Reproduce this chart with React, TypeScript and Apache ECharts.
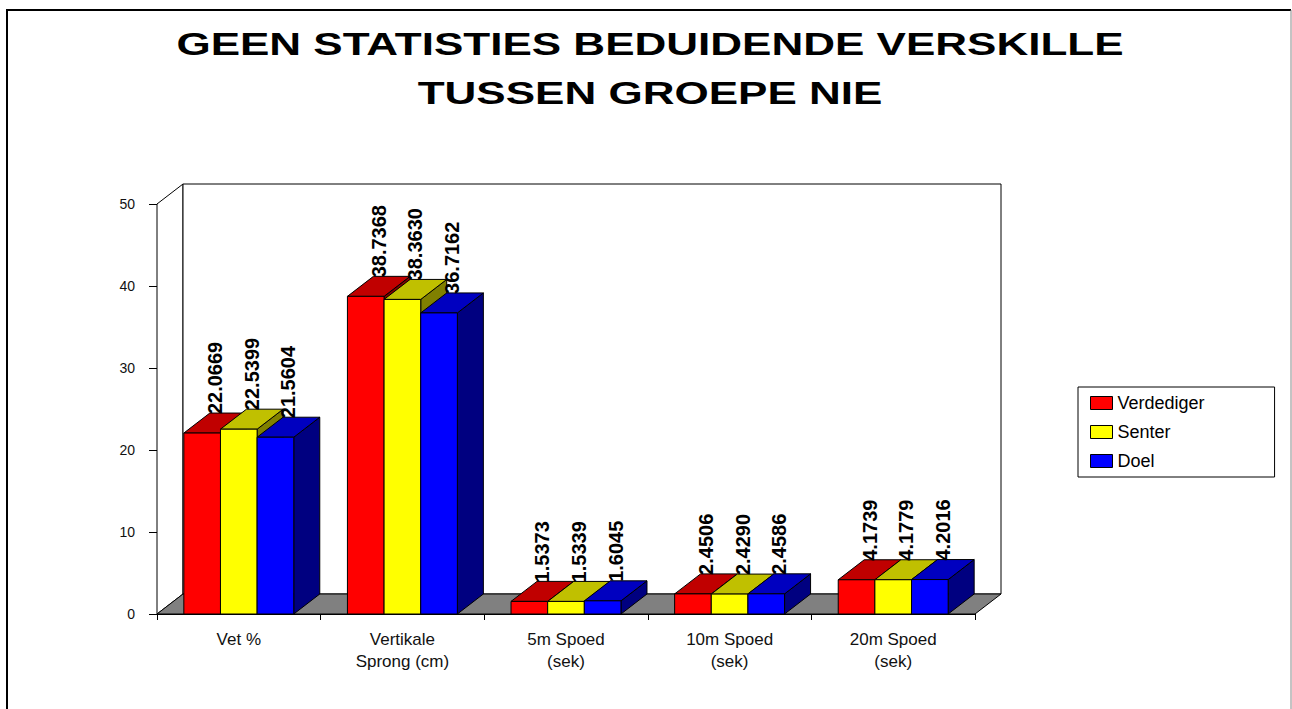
import React, { useEffect, useRef } from "react";
import * as echarts from "echarts";

// ---- data ----
const categories = [
  "Vet %",
  "Vertikale\nSprong (cm)",
  "5m Spoed\n(sek)",
  "10m Spoed\n(sek)",
  "20m Spoed\n(sek)",
];
const seriesNames = ["Verdediger", "Senter", "Doel"];
const verdediger = [22.0669, 38.7368, 1.5373, 2.4506, 4.1739];
const senter = [22.5399, 38.363, 1.5339, 2.429, 4.1779];
const doel = [21.5604, 36.7162, 1.6045, 2.4586, 4.2016];
const titleLines = ["GEEN STATISTIES BEDUIDENDE VERSKILLE", "TUSSEN GROEPE NIE"];
const yMin = 0;
const yMax = 50;
const yInterval = 10;

// ---- styles ----
const FONT = '"Liberation Sans", Arial, sans-serif';
const frontColors = ["#FF0000", "#FFFF00", "#0000FF"];
const topColors = ["#C00000", "#C0C000", "#0000C0"];
const sideColors = ["#800000", "#808000", "#000080"];
const DX = 26;
const DY = 20;
const GROUP_FRAC = 0.672;

const seriesValues = [verdediger, senter, doel];

function makeBarRenderer(k: number) {
  return (params: any, api: any) => {
    const ci = api.value(0);
    const v = api.value(1);
    const [cx, yTop] = api.coord([ci, v]);
    const [, y0] = api.coord([ci, 0]);
    const catW = api.size([1, 0])[0];
    const bw = (catW * GROUP_FRAC) / 3;
    const x0 = cx - 1.5 * bw + k * bw;
    const x1 = x0 + bw;
    const stroke = { stroke: "#000", lineWidth: 1 };
    return {
      type: "group",
      children: [
        {
          type: "polygon",
          z2: 1,
          shape: {
            points: [
              [x1, yTop],
              [x1 + DX, yTop - DY],
              [x1 + DX, y0 - DY],
              [x1, y0],
            ],
          },
          style: { fill: sideColors[k], ...stroke },
        },
        {
          type: "polygon",
          z2: 1,
          shape: {
            points: [
              [x0, yTop],
              [x1, yTop],
              [x1 + DX, yTop - DY],
              [x0 + DX, yTop - DY],
            ],
          },
          style: { fill: topColors[k], ...stroke },
        },
        {
          type: "rect",
          z2: 1,
          shape: { x: x0, y: yTop, width: bw, height: y0 - yTop },
          style: { fill: frontColors[k], ...stroke },
        },
        {
          type: "text",
          z2: 50,
          x: (x0 + x1) / 2 + DX / 2,
          y: yTop - DY + 1,
          rotation: Math.PI / 2,
          style: {
            text: v.toFixed(4),
            font: `bold 20px ${FONT}`,
            fill: "#000",
            align: "left",
            verticalAlign: "middle",
          },
        },
      ],
    };
  };
}

function renderFrame(params: any) {
  const cs = params.coordSys;
  const gx = cs.x;
  const gy = cs.y;
  const gw = cs.width;
  const gh = cs.height;
  const stroke = { stroke: "#000", lineWidth: 1 };
  return {
    type: "group",
    children: [
      {
        type: "polygon",
        shape: {
          points: [
            [gx, gy + gh],
            [gx, gy],
            [gx + DX, gy - DY],
            [gx + DX, gy + gh - DY],
          ],
        },
        style: { fill: "#fff", ...stroke },
      },
      {
        type: "rect",
        shape: { x: gx + DX, y: gy - DY, width: gw, height: gh },
        style: { fill: "#fff", ...stroke },
      },
      {
        type: "polygon",
        shape: {
          points: [
            [gx, gy + gh],
            [gx + gw, gy + gh],
            [gx + gw + DX, gy + gh - DY],
            [gx + DX, gy + gh - DY],
          ],
        },
        style: { fill: "#808080", ...stroke },
      },
    ],
  };
}

export default function App() {
  const ref = useRef<HTMLDivElement>(null);

  useEffect(() => {
    if (!ref.current) return;
    const chart = echarts.init(ref.current, undefined, { renderer: "svg" });
    const option: any = {
      animation: false,
      backgroundColor: "#fff",
      textStyle: { fontFamily: FONT },
      grid: { left: 157, top: 204, width: 818, height: 410 },
      graphic: [
        {
          type: "polyline",
          shape: {
            points: [
              [7, 720],
              [7, 10],
              [1291, 10],
            ],
          },
          style: { stroke: "#000", lineWidth: 2, fill: null },
        },
        {
          type: "line",
          shape: { x1: 1291, y1: 10, x2: 1291, y2: 720 },
          style: { stroke: "#888", lineWidth: 1 },
        },
        {
          type: "text",
          x: 650,
          y: 20,
          scaleX: 1.42,
          style: {
            text: titleLines.join("\n"),
            font: `bold 31px ${FONT}`,
            lineHeight: 49,
            fill: "#000",
            align: "center",
            verticalAlign: "top",
          },
        },
      ],
      legend: {
        orient: "vertical",
        left: 1078,
        top: 387,
        data: seriesNames,
        icon: "rect",
        itemWidth: 22,
        itemHeight: 13,
        itemGap: 11,
        padding: [7, 70, 7, 12],
        borderColor: "#000",
        borderWidth: 1,
        backgroundColor: "#fff",
        itemStyle: { borderColor: "#000", borderWidth: 1 },
        textStyle: { fontSize: 18, color: "#000", fontFamily: FONT },
        selectedMode: false,
      },
      xAxis: {
        type: "category",
        data: categories,
        boundaryGap: true,
        axisLine: { show: true, lineStyle: { color: "#000", width: 1 } },
        axisTick: { show: true, length: 6, lineStyle: { color: "#000" } },
        axisLabel: {
          interval: 0,
          fontSize: 17,
          lineHeight: 22,
          color: "#111",
          margin: 14,
          fontFamily: FONT,
        },
        splitLine: { show: false },
      },
      yAxis: {
        type: "value",
        min: yMin,
        max: yMax,
        interval: yInterval,
        axisLine: { show: true, lineStyle: { color: "#000", width: 1 } },
        axisTick: { show: true, length: 8, lineStyle: { color: "#000" } },
        axisLabel: { fontSize: 14, color: "#111", margin: 22, fontFamily: FONT },
        splitLine: { show: false },
      },
      series: [
        {
          type: "custom",
          name: "frame",
          z: 1,
          silent: true,
          renderItem: renderFrame,
          data: [[0, 0]],
          encode: { x: 0, y: 1 },
        },
        ...seriesNames.map((name, k) => ({
          type: "custom",
          name,
          z: 2,
          itemStyle: { color: frontColors[k] },
          renderItem: makeBarRenderer(k),
          data: seriesValues[k].map((v, i) => [i, v]),
          encode: { x: 0, y: 1 },
        })),
      ],
    };
    chart.setOption(option);
    return () => chart.dispose();
  }, []);

  return (
    <div
      ref={ref}
      style={{ position: "fixed", left: 0, top: 0, width: 1292, height: 709, background: "#fff" }}
    />
  );
}
